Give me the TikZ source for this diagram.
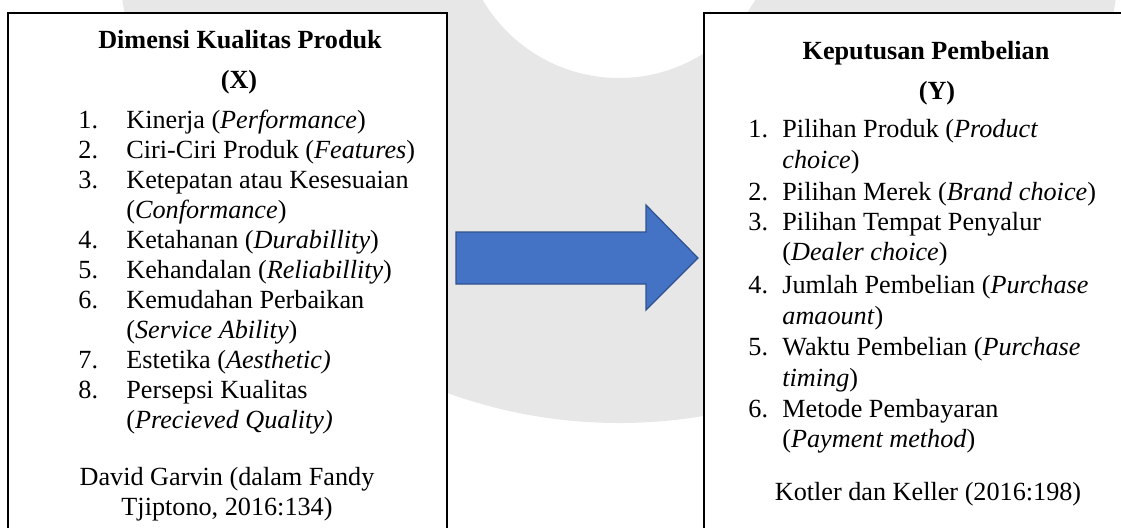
\documentclass[tikz,border=0pt]{standalone}
\usepackage{fontspec}
\setmainfont{Liberation Serif}
\definecolor{arrowfill}{HTML}{4472C4}
\definecolor{arrowline}{HTML}{2F528F}
\definecolor{wm}{HTML}{E7E7E7}
\begin{document}
\begin{tikzpicture}[x=0.5pt,y=-0.5pt,
  txt/.style={font=\fontsize{13.1}{15}\selectfont, inner sep=0pt, anchor=base west},
  ctr/.style={txt, anchor=base},
  ttl/.style={ctr, font=\fontsize{13.1}{15}\selectfont\bfseries},
  box/.style={draw=black, line width=1pt, fill=white},
  blockarrow/.style={fill=arrowfill, draw=arrowline, line width=0.6pt, line join=miter}]
\useasboundingbox (0,0) rectangle (1121,527);
\clip (0,0) rectangle (1121,527);
% watermark ring
\fill[wm, even odd rule] (619,-80) circle[radius=251.5pt] (619,-80) circle[radius=79pt];
% boxes
\draw[box] (8,13) rectangle (447,560);
\draw[box] (704,13) rectangle (1140,560);
% block arrow
\draw[blockarrow] (456,232) -- (646,232) -- (646,205) -- (698,258) -- (646,310) -- (646,284) -- (456,284) -- cycle;
% left box
\node[ttl] (lt1) at (240,48) {Dimensi Kualitas Produk};
\node[ttl] (lt2) at (239,88) {(X)};
\node[txt] (ln1) at (78,128) {1.};
\node[txt] (lx1) at (126,128) {Kinerja (\textit{Performance})};
\node[txt] (ln2) at (78,158) {2.};
\node[txt] (lx2) at (126,158) {Ciri-Ciri Produk (\textit{Features})};
\node[txt] (ln3) at (78,188) {3.};
\node[txt] (lx3) at (126,188) {Ketepatan atau Kesesuaian};
\node[txt] (lx3b) at (126,218) {(\textit{Conformance})};
\node[txt] (ln4) at (78,248) {4.};
\node[txt] (lx4) at (126,248) {Ketahanan (\textit{Durabillity})};
\node[txt] (ln5) at (78,278) {5.};
\node[txt] (lx5) at (126,278) {Kehandalan (\textit{Reliabillity})};
\node[txt] (ln6) at (78,308) {6.};
\node[txt] (lx6) at (126,308) {Kemudahan Perbaikan};
\node[txt] (lx6b) at (126,338) {(\textit{Service Ability})};
\node[txt] (ln7) at (78,368) {7.};
\node[txt] (lx7) at (126,368) {Estetika (\textit{Aesthetic)}};
\node[txt] (ln8) at (78,398) {8.};
\node[txt] (lx8) at (126,398) {Persepsi Kualitas};
\node[txt] (lx8b) at (126,428) {(\textit{Precieved Quality)}};
\node[ctr] (lc1) at (227,485) {David Garvin (dalam Fandy};
\node[ctr] (lc2) at (227,515) {Tjiptono, 2016:134)};
% right box
\node[ttl] (rt1) at (926,59) {Keputusan Pembelian};
\node[ttl] (rt2) at (937,99) {(Y)};
\node[txt] (rn1) at (748,137) {1.};
\node[txt] (rx1) at (782,137) {Pilihan Produk (\textit{Product}};
\node[txt] (rx1b) at (782,168) {\textit{choice})};
\node[txt] (rn2) at (748,200) {2.};
\node[txt] (rx2) at (782,200) {Pilihan Merek (\textit{Brand choice})};
\node[txt] (rn3) at (748,230) {3.};
\node[txt] (rx3) at (782,230) {Pilihan Tempat Penyalur};
\node[txt] (rx3b) at (782,260) {(\textit{Dealer choice})};
\node[txt] (rn4) at (748,293) {4.};
\node[txt] (rx4) at (782,293) {Jumlah Pembelian (\textit{Purchase}};
\node[txt] (rx4b) at (782,324) {\textit{amaount})};
\node[txt] (rn5) at (748,355) {5.};
\node[txt] (rx5) at (782,355) {Waktu Pembelian (\textit{Purchase}};
\node[txt] (rx5b) at (782,386) {\textit{timing})};
\node[txt] (rn6) at (748,417) {6.};
\node[txt] (rx6) at (782,417) {Metode Pembayaran};
\node[txt] (rx6b) at (782,447) {(\textit{Payment method})};
\node[ctr] (rc1) at (928,500) {Kotler dan Keller (2016:198)};
\end{tikzpicture}
\end{document}
